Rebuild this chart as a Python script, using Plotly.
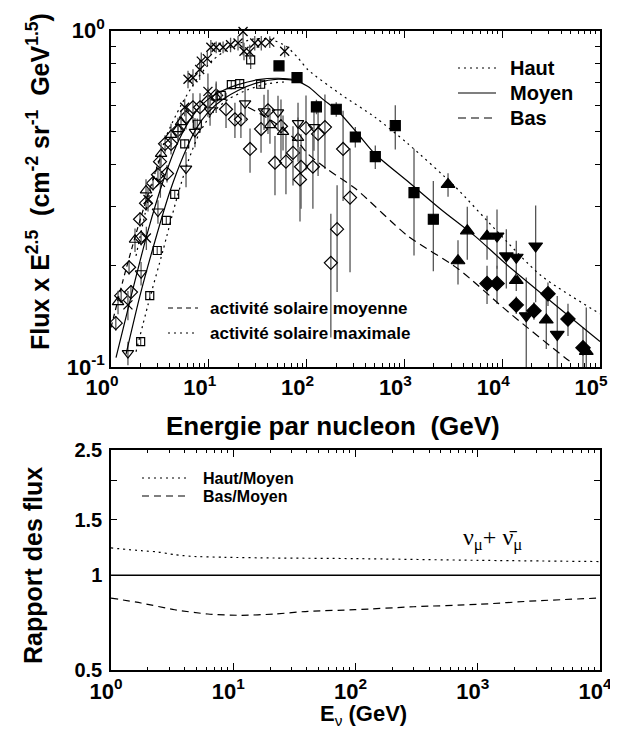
import plotly.graph_objects as go
import math

# ---------------- TOP PANEL DATA (E per nucleon in GeV, Flux x E^2.5, relative error) ----------------
star_E = [6.13, 6.89, 8.07, 8.38, 9.66, 9.8, 10.5, 11.9, 14.0, 16.7, 19.9, 22.4, 22.9, 26.2, 29.5, 34.4, 42.0, 59.7,
          1.49, 2.30, 2.39, 3.2, 5.67]
star_F = [0.717, 0.725, 0.767, 0.812, 0.826, 0.66, 0.893, 0.893, 0.893, 0.908, 0.919, 0.995, 0.869, 0.865, 0.919, 0.919, 0.925, 0.869,
          0.153, 0.242, 0.315, 0.354, 0.592]
star_R = [0.06, 0.06, 0.07, 0.06, 0.05, 0.13, 0.05, 0.04, 0.04, 0.05, 0.05, 0.15, 0.06, 0.05, 0.05, 0.05, 0.04, 0.04,
          0.10, 0.08, 0.08, 0.10, 0.06]

osq_E = [2.01, 2.49, 2.97, 3.68, 4.48, 5.67, 7.63, 13.4, 17.0, 20.7, 26.8, 33.9]
osq_F = [0.119, 0.163, 0.222, 0.273, 0.326, 0.461, 0.527, 0.642, 0.691, 0.696, 0.819, 0.693]
osq_R = [0.03, 0.03, 0.03, 0.03, 0.03, 0.03, 0.04, 0.03, 0.03, 0.03, 0.06, 0.03]

odi_E = [1.12, 1.27, 1.53, 1.60, 2.03, 1.98, 2.28, 2.69, 3.02, 3.17, 3.57, 3.74, 4.11, 4.84, 5.85, 6.89, 8.13, 9.8,
         11.9, 15.0, 18.5, 21.3, 26.4, 34.2, 40.3, 47.5, 54.7, 61.5, 72.6, 85.6, 87.7, 98.6, 116, 131, 154, 177, 205, 236, 278]
odi_F = [0.135, 0.163, 0.198, 0.167, 0.242, 0.275, 0.307, 0.352, 0.373, 0.408, 0.461, 0.376, 0.461, 0.506, 0.553, 0.592, 0.592, 0.616,
         0.642, 0.584, 0.545, 0.545, 0.445, 0.510, 0.580, 0.405, 0.520, 0.408, 0.433, 0.361, 0.394, 0.513, 0.394, 0.493, 0.517, 0.204, 0.257, 0.445, 0.319]
odi_R = [0.05, 0.05, 0.05, 0.05, 0.05, 0.05, 0.05, 0.05, 0.05, 0.05, 0.06, 0.06, 0.07, 0.07, 0.08, 0.10, 0.10, 0.10,
         0.10, 0.12, 0.12, 0.12, 0.15, 0.15, 0.15, 0.20, 0.20, 0.20, 0.20, 0.25, 0.25, 0.25, 0.25, 0.25, 0.25, 0.40, 0.35, 0.30, 0.40]

otu_E = [1.18, 1.76, 2.28, 3.25, 4.11, 4.84, 5.2, 11.9, 42.2, 57.4, 81.7]
otu_F = [0.156, 0.239, 0.335, 0.430, 0.490, 0.510, 0.535, 0.633, 0.524, 0.500, 0.480]
otu_R = [0.08, 0.08, 0.08, 0.08, 0.08, 0.08, 0.08, 0.10, 0.12, 0.12, 0.15]

otd_E = [1.49, 2.03, 3.02, 5.85, 7.22, 10.3, 23.5, 36.7, 51.0, 81.7, 119]
otd_F = [0.110, 0.190, 0.290, 0.389, 0.500, 0.580, 0.608, 0.576, 0.572, 0.531, 0.517]
otd_R = [0.08, 0.08, 0.08, 0.12, 0.10, 0.10, 0.12, 0.12, 0.12, 0.15, 0.15]

fsq_E = [52.2, 79.8, 126, 201, 315, 504, 807, 1254, 1976]
fsq_F = [0.786, 0.725, 0.594, 0.584, 0.483, 0.422, 0.522, 0.330, 0.275]
fsq_R = [0.03, 0.03, 0.05, 0.05, 0.07, 0.08, 0.15, 0.35, 0.30]

ftu_E = [2793, 3532, 4396, 6998, 13930, 28240, 72400]
ftu_F = [0.349, 0.207, 0.254, 0.245, 0.181, 0.138, 0.1113]
ftu_R = [0.08, 0.15, 0.18, 0.15, 0.07, 0.18, 0.35]

ftd_E = [8850, 11020, 13930, 21980, 17620, 36560]
ftd_F = [0.245, 0.214, 0.212, 0.229, 0.142, 0.125]
ftd_R = [0.20, 0.20, 0.12, 0.32, 0.30, 0.30]

fdi_E = [6998, 8850, 13930, 21130, 29380, 47070, 67000]
fdi_F = [0.177, 0.177, 0.153, 0.147, 0.165, 0.139, 0.114]
fdi_R = [0.13, 0.13, 0.06, 0.06, 0.08, 0.11, 0.15]

# ---------------- TOP PANEL MODEL CURVES ----------------
haut_E = [1.801, 2.564, 3.651, 5.196, 7.755, 11.04, 17.68, 28.31, 42.25, 61.55, 81.68, 103.3, 224.7, 500.5, 1088, 3292, 8443, 24930, 100000]
haut_F = [0.214, 0.340, 0.483, 0.600, 0.725, 0.819, 0.900, 0.944, 0.944, 0.900, 0.830, 0.765, 0.646, 0.553, 0.461, 0.344, 0.257, 0.187, 0.144]

moyen_E = [1.125, 1.679, 2.389, 3.401, 4.843, 6.892, 9.813, 13.97, 19.89, 31.85, 51.01, 72.59, 103.3, 147.2, 209.5, 335.5, 500.5, 1088, 2367, 5272, 11470, 100000]
moyen_F = [0.1066, 0.171, 0.254, 0.356, 0.467, 0.560, 0.625, 0.664, 0.691, 0.715, 0.722, 0.715, 0.682, 0.625, 0.576, 0.493, 0.430, 0.356, 0.294, 0.245, 0.200, 0.119]

moyen2_E = [1.423, 1.979, 2.818, 4.011, 5.448, 7.398, 9.813, 13.97, 19.89, 31.85, 51.01, 72.59]
moyen2_F = [0.109, 0.163, 0.237, 0.333, 0.422, 0.510, 0.572, 0.625, 0.664, 0.701, 0.718, 0.713]

bas_E = [25.17, 35.84, 51.01, 81.68, 103.3, 165.5, 312.5, 1088, 3533, 11470, 43860, 52940]
bas_F = [0.592, 0.560, 0.524, 0.467, 0.430, 0.386, 0.340, 0.245, 0.196, 0.146, 0.1066, 0.1024]

solmoy_E = [1.0, 1.327, 1.801, 2.389, 3.170]
solmoy_F = [0.131, 0.181, 0.249, 0.326, 0.416]

solmax_E = [1.801, 2.389, 3.401, 4.619, 6.129, 8.128, 11.04, 15.72, 25.17, 40.30, 64.52]
solmax_F = [0.111, 0.153, 0.222, 0.311, 0.408, 0.500, 0.572, 0.625, 0.668, 0.696, 0.705]

# ---------------- BOTTOM PANEL (E_nu in GeV, flux ratio) ----------------
hm_E = [1, 1.77, 2.42, 3.32, 4.54, 8.5, 21.8, 98.7, 1000, 10000]
hm_R = [1.22, 1.196, 1.185, 1.162, 1.148, 1.14, 1.134, 1.129, 1.115, 1.105]
bm_E = [1, 1.76, 3.32, 6.2, 11.6, 21.8, 40.9, 98.7, 300, 1000, 3000, 10000]
bm_R = [0.847, 0.817, 0.778, 0.754, 0.747, 0.754, 0.769, 0.778, 0.795, 0.809, 0.83, 0.847]
ref_E = [1, 10000]
ref_R = [1, 1]

# ---------------- figure ----------------
W, H = 618, 730
FONT = "Liberation Sans, Arial, sans-serif"
SERIF = "Liberation Serif, Times New Roman, serif"
ERRC = "#555555"


def pxx(x):
    return x / W


def pyy(y):
    return 1 - y / H


fig = go.Figure()


def points(E, F, R, symbol, size, lw=1.2, clip=True):
    err = [f * r for f, r in zip(F, R)]
    fig.add_trace(go.Scatter(
        x=E, y=F, mode="markers", xaxis="x", yaxis="y", cliponaxis=clip,
        marker=dict(symbol=symbol, size=size, color="black", line=dict(color="black", width=lw)),
        error_y=dict(type="data", array=err, arrayminus=err, color=ERRC, thickness=1.3, width=0),
        showlegend=False, hoverinfo="skip"))


points(odi_E, odi_F, odi_R, "diamond-open", 10)
points(otu_E, otu_F, otu_R, "triangle-up-open", 10)
points(otd_E, otd_F, otd_R, "triangle-down-open", 10)
points(osq_E, osq_F, osq_R, "square-open", 8)
points(star_E, star_F, star_R, "x-thin-open", 9, lw=1.3, clip=False)
points(fsq_E, fsq_F, fsq_R, "square", 10)
points(ftu_E, ftu_F, ftu_R, "triangle-up", 12)
points(ftd_E, ftd_F, ftd_R, "triangle-down", 12)
points(fdi_E, fdi_F, fdi_R, "diamond", 11)


def curve(E, F, dash, xa="x", ya="y", width=1.2, shape="spline"):
    fig.add_trace(go.Scatter(
        x=E, y=F, mode="lines", xaxis=xa, yaxis=ya,
        line=dict(color="black", width=width, dash=dash, shape=shape, smoothing=0.7),
        showlegend=False, hoverinfo="skip"))


DOT = "2px,4px"
DASH = "8px,5px"
curve(haut_E, haut_F, DOT)
curve(moyen_E, moyen_F, "solid")
curve(moyen2_E, moyen2_F, "solid")
curve(bas_E, bas_F, DASH)
curve(solmoy_E, solmoy_F, "5px,4px")
curve(solmax_E, solmax_F, DOT)

curve(hm_E, hm_R, "2px,4px", xa="x2", ya="y2")
curve(bm_E, bm_R, "7px,5px", xa="x2", ya="y2")
curve(ref_E, ref_R, "solid", xa="x2", ya="y2", width=1.6, shape="linear")


def dec_minor(lo, hi):
    out = []
    for d in range(lo, hi):
        for m in range(2, 10):
            out.append(m * 10 ** d)
    return out


def sup10(n):
    return "<b>10<sup>%d</sup></b>" % n


axis_common = dict(showline=True, linecolor="black", linewidth=1.5, mirror="allticks", automargin=False,
                   ticks="inside", tickcolor="black", tickwidth=1.2, showgrid=False, zeroline=False)
TICKF = dict(family=FONT, size=22, color="black")
TICKF2 = dict(family=FONT, size=20, color="black")

fig.update_layout(
    width=W, height=H, margin=dict(l=0, r=0, t=0, b=0, autoexpand=False),
    paper_bgcolor="white", plot_bgcolor="white", showlegend=False,
    xaxis=dict(type="log", range=[0, 5], domain=[103 / W, 592 / W], anchor="y",
               tickvals=[1, 10, 100, 1e3, 1e4, 1e5], ticktext=[sup10(i) for i in range(6)], ticklen=8,
               ticklabelshift=-9, ticklabeloverflow="allow", tickfont=TICKF,
               minor=dict(tickmode="array", tickvals=dec_minor(0, 5), ticks="inside", ticklen=4,
                          tickcolor="black", tickwidth=1, showgrid=False),
               **axis_common),
    yaxis=dict(type="log", range=[-1, 0], domain=[1 - 359 / H, 1 - 22.7 / H], anchor="x",
               tickvals=[0.1, 1], ticktext=["<b>10<sup>-1</sup></b>", "<b>10<sup>0</sup></b>"], ticklen=8,
               ticklabeloverflow="allow", tickfont=TICKF,
               minor=dict(tickmode="array", tickvals=[0.2, 0.3, 0.4, 0.5, 0.6, 0.7, 0.8, 0.9], ticks="inside",
                          ticklen=5, tickcolor="black", tickwidth=1, showgrid=False),
               **axis_common),
    xaxis2=dict(type="log", range=[0, 4], domain=[103 / W, 592 / W], anchor="y2",
                tickvals=[1, 10, 100, 1e3, 1e4], ticktext=[sup10(i) for i in range(5)], ticklen=8,
                ticklabelshift=-5, ticklabeloverflow="allow", tickfont=TICKF,
                minor=dict(tickmode="array", tickvals=dec_minor(0, 4), ticks="inside", ticklen=4,
                           tickcolor="black", tickwidth=1, showgrid=False),
                **axis_common),
    yaxis2=dict(type="log", range=[math.log10(0.5), math.log10(2.5)], domain=[1 - 662.4 / H, 1 - 441.5 / H], anchor="x2",
                tickvals=[0.5, 1, 1.5, 2, 2.5], ticktext=["<b>0.5</b>", "<b>1</b>", "<b>1.5</b>", "", "<b>2.5</b>"],
                ticklen=6, ticklabeloverflow="allow", ticklabelstandoff=3, tickfont=TICKF2, **axis_common),
)

ann = []
shapes = []


def text(x, y, s, size, xanchor="left", angle=0, family=FONT):
    ann.append(dict(x=pxx(x), y=pyy(y), xref="paper", yref="paper", text=s, showarrow=False,
                    xanchor=xanchor, yanchor="middle", textangle=angle,
                    font=dict(family=family, size=size, color="black")))


def sample(x0, x1, y, dash):
    shapes.append(dict(type="line", xref="paper", yref="paper", x0=pxx(x0), x1=pxx(x1), y0=pyy(y), y1=pyy(y),
                       line=dict(color="black", width=1.2, dash=dash)))


# axis titles
text(30, 174, "<b>Flux x E<sup>2.5</sup>  (cm<sup>-2</sup> sr<sup>-1</sup>  GeV<sup>1.5</sup>)</b>", 25, xanchor="center", angle=-90)
text(325, 418, "<b>Energie par nucleon  (GeV)</b>", 26, xanchor="center")
text(25, 558, "<b>Rapport des flux</b>", 25, xanchor="center", angle=-90)
text(355, 707, "<b>E</b><sub>ν</sub><b> (GeV)</b>", 22, xanchor="center")

# top legend
sample(450, 488, 60, DOT)
sample(450, 488, 85, "solid")
sample(450, 488, 110, DASH)
text(500, 60, "<b>Haut</b>", 20)
text(500, 85, "<b>Moyen</b>", 20)
text(500, 110, "<b>Bas</b>", 20)

# solar activity legend
sample(160, 190, 300, "5px,4px")
sample(160, 190, 325, DOT)
text(200, 300, "<b>activité solaire moyenne</b>", 17)
text(200, 325, "<b>activité solaire maximale</b>", 17)

# bottom legend
sample(134, 178, 470, "2px,4px")
sample(134, 178, 488, "7px,5px")
text(193, 470, "<b>Haut/Moyen</b>", 16)
text(193, 488, "<b>Bas/Moyen</b>", 16)

text(485, 531, "ν<sub>μ</sub>+ ν̄<sub>μ</sub>", 24, xanchor="center", family=SERIF)

fig.update_layout(annotations=ann, shapes=shapes)
fig.write_html("out.html")
